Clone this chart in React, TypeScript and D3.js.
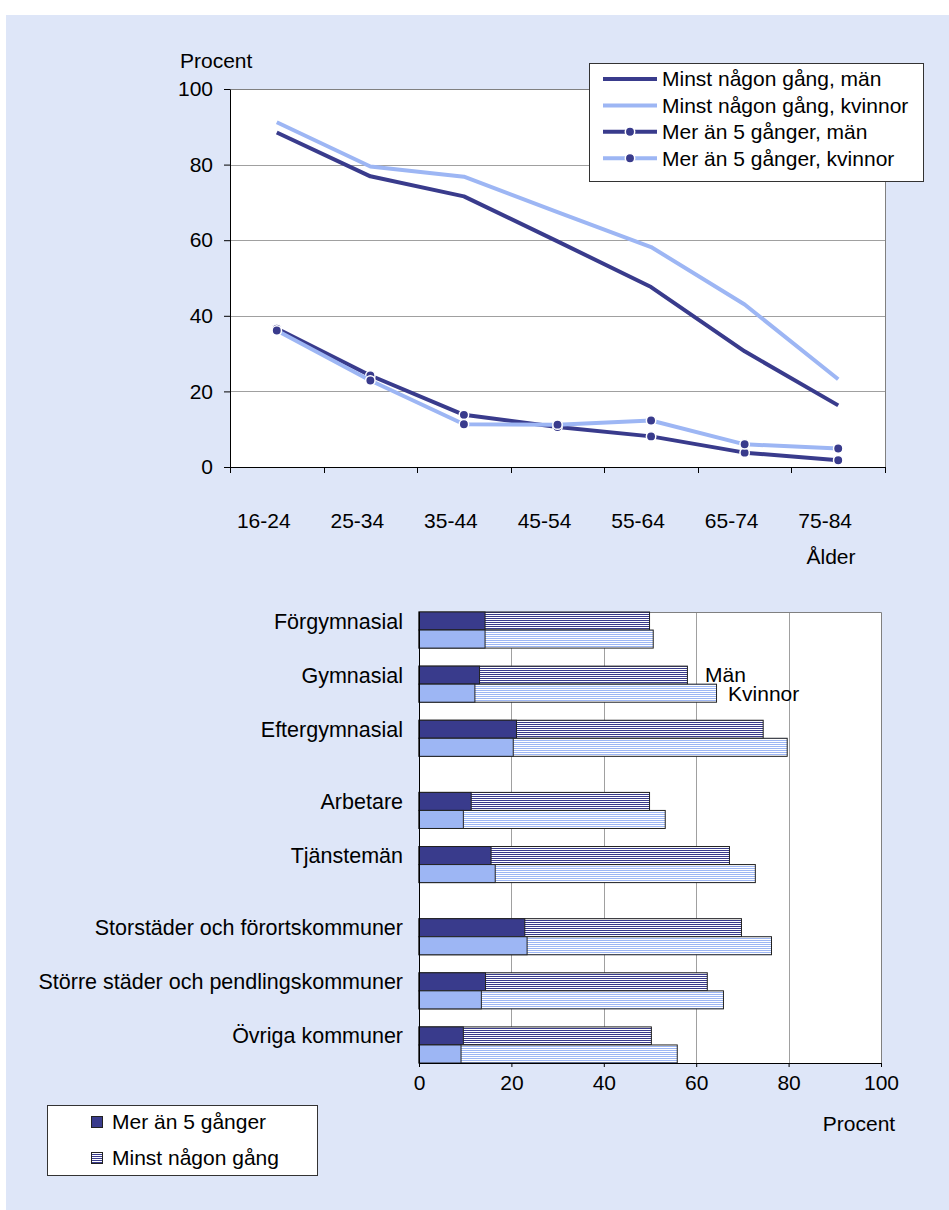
import React, { useEffect, useRef } from "react";
import * as d3 from "d3";

// Linjediagram: andel per åldersgrupp
const ageGroups = ["16-24", "25-34", "35-44", "45-54", "55-64", "65-74", "75-84"];
const minstMan = [88.5, 76.9, 71.6, 59.7, 47.6, 30.6, 16.3];
const minstKvinnor = [91.2, 79.5, 76.8, 67.4, 58.2, 43.0, 23.2];
const merMan = [36.6, 24.2, 13.8, 10.6, 8.1, 3.8, 1.8];
const merKvinnor = [36.1, 22.9, 11.3, 11.2, 12.3, 6.0, 4.9];
const yTicks = [0, 20, 40, 60, 80, 100];

// Stapeldiagram: utbildning, klass, region
const sections = [
  ["Förgymnasial", "Gymnasial", "Eftergymnasial"],
  ["Arbetare", "Tjänstemän"],
  ["Storstäder och förortskommuner", "Större städer och pendlingskommuner", "Övriga kommuner"],
];
const barMinstMan = [49.9, 58.1, 74.5, 49.9, 67.2, 69.8, 62.4, 50.3];
const barMinstKvinnor = [50.7, 64.4, 79.7, 53.3, 72.8, 76.3, 65.9, 55.9];
const barMerMan = [14.3, 13.1, 21.1, 11.3, 15.6, 22.9, 14.4, 9.6];
const barMerKvinnor = [14.3, 12.1, 20.4, 9.6, 16.5, 23.4, 13.5, 9.1];
const xTicks = [0, 20, 40, 60, 80, 100];

const W = 949;
const H = 1210;
const DARK = "#393b8c";
const LIGHT = "#9db6f4";
const PANEL = "#dee6f8";
const GRID = "#a0a0a0";
const FONT = "'Liberation Sans', Arial, sans-serif";
const FS = 21;

export default function App() {
  const svgRef = useRef<SVGSVGElement>(null);

  useEffect(() => {
    const svg = d3.select(svgRef.current);
    svg.selectAll("*").remove();
    svg.attr("width", W).attr("height", H).style("font-family", FONT);

    svg.append("rect")
      .attr("x", 6).attr("y", 15)
      .attr("width", W - 6).attr("height", H - 15)
      .attr("fill", PANEL);

    // randmönster
    const defs = svg.append("defs");
    const addStripes = (id: string, color: string) => {
      const p = defs.append("pattern")
        .attr("id", id)
        .attr("patternUnits", "userSpaceOnUse")
        .attr("width", 4).attr("height", 2);
      p.append("rect").attr("width", 4).attr("height", 2).attr("fill", "#fff");
      p.append("rect").attr("width", 4).attr("height", 1).attr("fill", color);
    };
    addStripes("stripe-man", DARK);
    addStripes("stripe-kv", LIGHT);

    // ================= Linjediagram =================
    const tp = { left: 230, right: 885, top: 89, bottom: 467 };
    const x = d3.scaleBand<string>().domain(ageGroups).range([tp.left, tp.right]);
    const y = d3.scaleLinear().domain([0, 100]).range([tp.bottom, tp.top]);
    const bw = x.bandwidth();
    const cx = (i: number) => (x(ageGroups[i]) as number) + bw / 2;

    svg.append("rect")
      .attr("x", tp.left).attr("y", tp.top)
      .attr("width", tp.right - tp.left).attr("height", tp.bottom - tp.top)
      .attr("fill", "#fff");

    svg.append("g")
      .selectAll("line")
      .data([20, 40, 60, 80])
      .enter()
      .append("line")
      .attr("x1", tp.left).attr("x2", tp.right)
      .attr("y1", (d) => Math.round(y(d)) + 0.5).attr("y2", (d) => Math.round(y(d)) + 0.5)
      .attr("stroke", GRID);

    // ram topp/höger
    svg.append("path")
      .attr("d", `M${tp.left},${tp.top + 0.5}H${tp.right + 0.5}V${tp.bottom}`)
      .attr("fill", "none").attr("stroke", "#808080");

    const yAxis = svg.append("g")
      .attr("transform", `translate(${tp.left},0)`)
      .call(d3.axisLeft(y).tickValues(yTicks).tickSize(6).tickSizeOuter(0).tickPadding(11))
      .attr("font-size", FS).attr("font-family", FONT);
    yAxis.selectAll("text").attr("fill", "#000");
    yAxis.selectAll("line, path").attr("stroke", "#000");

    // x-axel
    const xEdges = [...ageGroups.map((d) => x(d) as number), tp.right];
    svg.append("line")
      .attr("x1", tp.left).attr("x2", tp.right)
      .attr("y1", tp.bottom + 0.5).attr("y2", tp.bottom + 0.5)
      .attr("stroke", "#000");
    svg.append("g")
      .selectAll("line")
      .data(xEdges)
      .enter()
      .append("line")
      .attr("x1", (d) => Math.round(d) + 0.5).attr("x2", (d) => Math.round(d) + 0.5)
      .attr("y1", tp.bottom).attr("y2", tp.bottom + 6)
      .attr("stroke", "#000");
    svg.append("g")
      .selectAll("text")
      .data(ageGroups)
      .enter()
      .append("text")
      .attr("x", (d, i) => cx(i) - 13)
      .attr("y", 521)
      .attr("dy", "0.35em")
      .attr("text-anchor", "middle")
      .attr("font-size", FS)
      .text((d) => d);

    svg.append("text")
      .attr("x", 180).attr("y", 61).attr("dy", "0.35em")
      .attr("font-size", FS).text("Procent");
    svg.append("text")
      .attr("x", 831).attr("y", 557).attr("dy", "0.35em")
      .attr("text-anchor", "middle")
      .attr("font-size", FS).text("Ålder");

    const series = [
      { name: "Minst någon gång, män", values: minstMan, color: DARK, markers: false },
      { name: "Minst någon gång, kvinnor", values: minstKvinnor, color: LIGHT, markers: false },
      { name: "Mer än 5 gånger, män", values: merMan, color: DARK, markers: true },
      { name: "Mer än 5 gånger, kvinnor", values: merKvinnor, color: LIGHT, markers: true },
    ];

    const line = d3.line<number>().x((d, i) => cx(i)).y((d) => y(d));

    series.forEach((s) => {
      svg.append("path")
        .datum(s.values)
        .attr("d", line)
        .attr("fill", "none")
        .attr("stroke", s.color)
        .attr("stroke-width", 4)
        .attr("stroke-linejoin", "round");
      if (s.markers) {
        svg.append("g")
          .selectAll("circle")
          .data(s.values)
          .enter()
          .append("circle")
          .attr("cx", (d, i) => cx(i))
          .attr("cy", (d) => y(d))
          .attr("r", 4.7)
          .attr("fill", DARK)
          .attr("stroke", "#fff")
          .attr("stroke-width", 1.5);
      }
    });

    // legend
    const lg = svg.append("g");
    lg.append("rect")
      .attr("x", 589.5).attr("y", 63.5)
      .attr("width", 334).attr("height", 118)
      .attr("fill", "#fff").attr("stroke", "#333");
    series.forEach((s, i) => {
      const ly = 79 + i * 26.4;
      lg.append("line")
        .attr("x1", 603).attr("x2", 657)
        .attr("y1", ly).attr("y2", ly)
        .attr("stroke", s.color).attr("stroke-width", 4);
      if (s.markers) {
        lg.append("circle")
          .attr("cx", 630).attr("cy", ly).attr("r", 4.7)
          .attr("fill", DARK).attr("stroke", "#fff").attr("stroke-width", 1.5);
      }
      lg.append("text")
        .attr("x", 662).attr("y", ly).attr("dy", "0.35em")
        .attr("font-size", FS).text(s.name);
    });

    // ================= Stapeldiagram =================
    const bp = { left: 419, right: 881, top: 612, bottom: 1063 };
    const xb = d3.scaleLinear().domain([0, 100]).range([bp.left, bp.right]);
    const yu = d3.scaleLinear().domain([0, 25]).range([bp.top, bp.bottom]);
    const barH = yu(1) - yu(0);

    const rows: { name: string; unit: number }[] = [];
    let idx = 0;
    sections.forEach((sec, si) => {
      sec.forEach((name) => {
        rows.push({ name, unit: idx * 3 + si });
        idx++;
      });
    });

    svg.append("rect")
      .attr("x", bp.left).attr("y", bp.top)
      .attr("width", bp.right - bp.left).attr("height", bp.bottom - bp.top)
      .attr("fill", "#fff");

    svg.append("g")
      .selectAll("line")
      .data([20, 40, 60, 80])
      .enter()
      .append("line")
      .attr("x1", (d) => Math.round(xb(d)) + 0.5).attr("x2", (d) => Math.round(xb(d)) + 0.5)
      .attr("y1", bp.top).attr("y2", bp.bottom)
      .attr("stroke", GRID);

    svg.append("path")
      .attr("d", `M${bp.left},${bp.top + 0.5}H${bp.right + 0.5}V${bp.bottom}`)
      .attr("fill", "none").attr("stroke", "#808080");

    const barGroups = [
      { total: barMinstMan, mer: barMerMan, fill: DARK, stripe: "url(#stripe-man)", off: 0 },
      { total: barMinstKvinnor, mer: barMerKvinnor, fill: LIGHT, stripe: "url(#stripe-kv)", off: 1 },
    ];

    barGroups.forEach((g) => {
      const gg = svg.append("g");
      gg.selectAll(".total")
        .data(rows)
        .enter()
        .append("rect")
        .attr("class", "total")
        .attr("x", xb(0))
        .attr("y", (d) => yu(d.unit + g.off))
        .attr("width", (d, i) => xb(g.total[i]) - xb(0))
        .attr("height", barH)
        .attr("fill", g.stripe)
        .attr("stroke", "#222");
      gg.selectAll(".mer")
        .data(rows)
        .enter()
        .append("rect")
        .attr("class", "mer")
        .attr("x", xb(0))
        .attr("y", (d) => yu(d.unit + g.off))
        .attr("width", (d, i) => xb(g.mer[i]) - xb(0))
        .attr("height", barH)
        .attr("fill", g.fill)
        .attr("stroke", "#222");
    });

    svg.append("line")
      .attr("x1", bp.left + 0.5).attr("x2", bp.left + 0.5)
      .attr("y1", bp.top).attr("y2", bp.bottom)
      .attr("stroke", "#000");

    const xAxis = svg.append("g")
      .attr("transform", `translate(0,${bp.bottom})`)
      .call(d3.axisBottom(xb).tickValues(xTicks).tickSize(4).tickSizeOuter(0).tickPadding(8))
      .attr("font-size", FS).attr("font-family", FONT);
    xAxis.selectAll("text").attr("fill", "#000");
    xAxis.selectAll("line, path").attr("stroke", "#000");

    svg.append("g")
      .selectAll("text")
      .data(rows)
      .enter()
      .append("text")
      .attr("x", 403)
      .attr("y", (d) => yu(d.unit) + barH / 2)
      .attr("dy", "0.35em")
      .attr("text-anchor", "end")
      .attr("font-size", 21.5)
      .text((d) => d.name);

    // Män / Kvinnor etiketter vid Gymnasial
    const gym = rows[1];
    svg.append("text")
      .attr("x", xb(61.9)).attr("y", yu(gym.unit) + barH / 2).attr("dy", "0.35em")
      .attr("font-size", FS).text("Män");
    svg.append("text")
      .attr("x", xb(66.9)).attr("y", yu(gym.unit + 1) + barH / 2).attr("dy", "0.35em")
      .attr("font-size", FS).text("Kvinnor");

    svg.append("text")
      .attr("x", 859).attr("y", 1124).attr("dy", "0.35em")
      .attr("text-anchor", "middle")
      .attr("font-size", FS).text("Procent");

    // legend nere
    const lb = svg.append("g");
    lb.append("rect")
      .attr("x", 47.5).attr("y", 1105.5)
      .attr("width", 270).attr("height", 70)
      .attr("fill", "#fff").attr("stroke", "#333");
    const legendB = [
      { name: "Mer än 5 gånger", fill: DARK },
      { name: "Minst någon gång", fill: "url(#stripe-man)" },
    ];
    legendB.forEach((e, i) => {
      const ly = 1122 + i * 36;
      lb.append("rect")
        .attr("x", 91.5).attr("y", Math.round(ly - 6) + 0.5)
        .attr("width", 11).attr("height", 11)
        .attr("fill", e.fill).attr("stroke", "#222");
      lb.append("text")
        .attr("x", 112).attr("y", ly).attr("dy", "0.35em")
        .attr("font-size", FS).text(e.name);
    });
  }, []);

  return (
    <div style={{ position: "absolute", left: 0, top: 0 }}>
      <svg ref={svgRef} />
    </div>
  );
}
